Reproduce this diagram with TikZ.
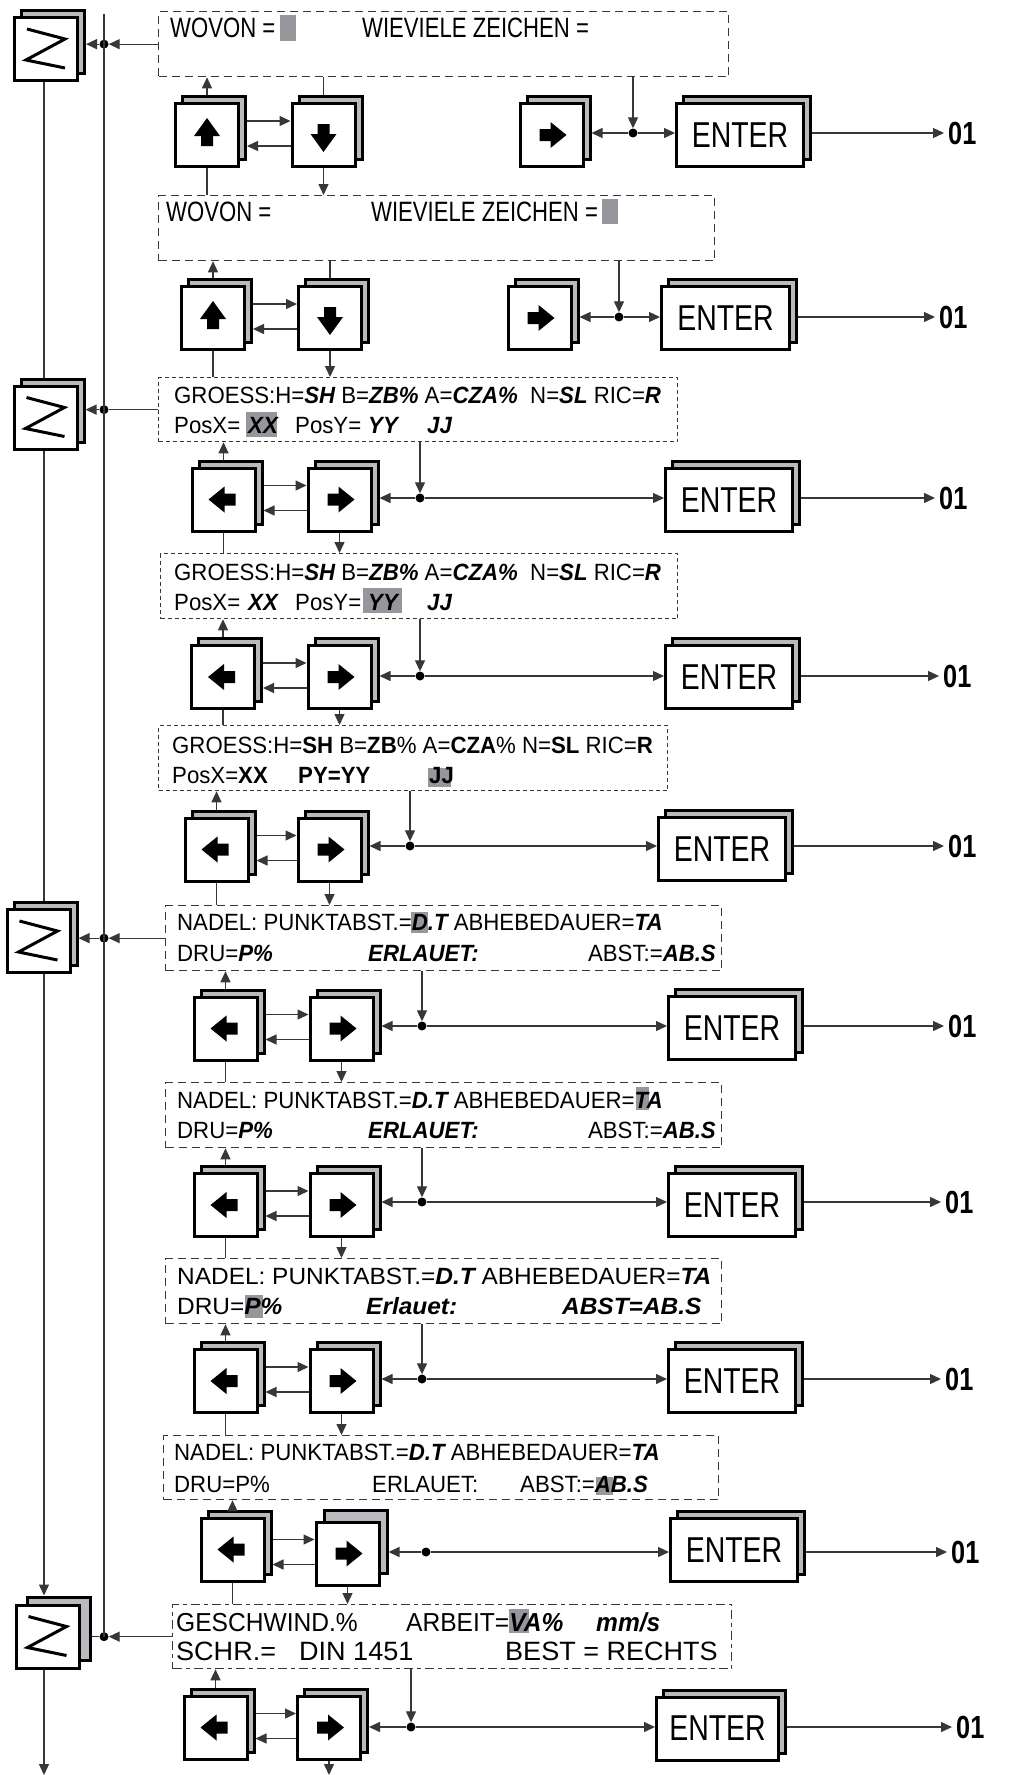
\documentclass[tikz,border=0pt]{standalone}
\usepackage{fontspec}
\setmainfont{Liberation Sans}
\newfontfamily\fa{Liberation Sans}[FakeStretch=0.79]
\newfontfamily\fb{Liberation Sans}[FakeStretch=0.945]
\newfontfamily\fc{Liberation Sans}[FakeStretch=1.04]
\newfontfamily\fd{Liberation Sans}[FakeStretch=1.02]
\usetikzlibrary{arrows.meta,calc}
\definecolor{hl}{RGB}{150,150,156}
\definecolor{sh}{RGB}{185,185,190}
\definecolor{ln}{RGB}{55,55,55}
\newcommand\bfi[1]{{\bfseries\itshape #1}}
\tikzset{
 kface/.style={draw, line width=3pt, fill=white, inner sep=0pt, minimum height=63pt, minimum width=#1},
 kshadow/.style={draw, line width=3pt, fill=sh, inner sep=0pt, minimum height=63pt, minimum width=#1},
 dbox/.style={draw=ln, line width=1.3pt, dash pattern=on 8pt off 5pt, anchor=north west, inner sep=0pt},
 dboxf/.style={dbox, dash pattern=on 4pt off 3pt},
 dboxg/.style={dbox, dash pattern=on 9pt off 4pt on 4pt off 4pt},
 con/.style={draw=ln, line width=1.3pt},
 arr/.style={con, -{Triangle[length=11pt,width=10pt]}},
 jdot/.style={circle, fill=black, inner sep=0pt, minimum size=9pt},
 tA/.style={anchor=base west, inner sep=0pt, font=\fontsize{28}{30}\fa},
 tB/.style={anchor=base west, inner sep=0pt, font=\fontsize{23.5}{25}\fb},
 tC/.style={anchor=base west, inner sep=0pt, font=\fontsize{23.5}{25}\fc},
 tD/.style={anchor=base west, inner sep=0pt, font=\fontsize{26}{28}\fb},
 tE/.style={anchor=base west, inner sep=0pt, font=\fontsize{26.5}{28}\fd},
 one/.style={anchor=west, inner sep=0pt, font=\fontsize{32}{32}\fa\bfseries},
}
\newcommand\kbox[5][(7,-7)]{%
 \node[kshadow=#5] (#2s) at ($(#3,#4)+#1$) {};
 \node[kface=#5] (#2) at (#3,#4) {};}
\newcommand\entbox[4]{%
 \node[kshadow=#4] (#1s) at ($(#2,#3)+(7,-7)$) {};
 \node[kface=#4, font=\fontsize{36}{36}\fa] (#1) at (#2,#3) {ENTER};}
\newcommand\icU[1]{\fill[shift={(#1.center)}] (0,-17)--(13,1)--(6,1)--(6,11)--(-6,11)--(-6,1)--(-13,1)--cycle;}
\newcommand\icD[1]{\fill[shift={(#1.center)}] (0,17)--(13,-1)--(6,-1)--(6,-11)--(-6,-11)--(-6,-1)--(-13,-1)--cycle;}
\newcommand\icR[1]{\fill[shift={(#1.center)}] (15,0)--(-1,-13)--(-1,-6)--(-12,-6)--(-12,6)--(-1,6)--(-1,13)--cycle;}
\newcommand\icL[1]{\fill[shift={(#1.center)}] (-15,0)--(1,-13)--(1,-6)--(12,-6)--(12,6)--(1,6)--(1,13)--cycle;}
\newcommand\icG[1]{\draw[line width=3pt, shift={(#1.center)}] (-19,-20)--(19,-10)--(-20,11)--(19,19);}
\newcommand\pairarr[2]{%
 \coordinate (#1u) at ($(#2.west)+(0,-14)$);
 \coordinate (#1d) at ($(#2.west)+(0,11)$);
 \draw[arr] (#1u -| #1s.east) -- (#1u);
 \draw[arr] (#1d) -- (#1d -| #1s.east);}
\begin{document}
\begin{tikzpicture}[x=1pt,y=-1pt]
\fill[white] (0,0) rectangle (1013,1775);
\useasboundingbox (0,0) rectangle (1013,1775);

% ---------- dashed display boxes ----------
\node[dbox, minimum width=570pt, minimum height=65pt] (b1) at (158,11) {};
\node[dbox, minimum width=556pt, minimum height=65pt] (b2) at (158,195) {};
\node[dboxf, minimum width=519pt, minimum height=64pt] (b3) at (158,377) {};
\node[dboxf, minimum width=517pt, minimum height=65pt] (b4) at (160,553) {};
\node[dboxf, minimum width=509pt, minimum height=65pt] (b5) at (158,725) {};
\node[dbox, minimum width=556pt, minimum height=65pt] (b6) at (165,905) {};
\node[dbox, minimum width=556pt, minimum height=65pt] (b7) at (165,1082) {};
\node[dbox, minimum width=556pt, minimum height=65pt] (b8) at (165,1258) {};
\node[dbox, minimum width=555pt, minimum height=64pt] (b9) at (163,1435) {};
\node[dboxg, minimum width=559pt, minimum height=64pt] (b10) at (172,1604) {};

% ---------- highlights ----------
\fill[hl] (280,15) rectangle (296,41);
\fill[hl] (602,199) rectangle (618,224);
\fill[hl] (246,412) rectangle (277,437);
\fill[hl] (363,588) rectangle (402,613);
\fill[hl] (428,768) rectangle (451,787);
\fill[hl] (411,912) rectangle (428,933);
\fill[hl] (636,1087) rectangle (649,1110);
\fill[hl] (245,1295) rectangle (263,1318);
\fill[hl] (596,1477) rectangle (613,1495);
\fill[hl] (509,1609) rectangle (529,1633);

% ---------- texts ----------
\node[tA] (t1a) at (170,37) {WOVON =};
\node[tA] (t1b) at (362,37) {WIEVIELE ZEICHEN =};
\node[tA] (t2a) at (166,221) {WOVON =};
\node[tA] (t2b) at (371,221) {WIEVIELE ZEICHEN =};

\node[tB] (t3a) at (174,403) {GROESS:H=\bfi{SH} B=\bfi{ZB\%} A=\bfi{CZA\%}\ \ N=\bfi{SL} RIC=\bfi{R}};
\node[tB] (t3b) at (174,433) {PosX=};
\node[tB] (t3c) at (248,433) {\bfi{XX}};
\node[tB] (t3d) at (295,433) {PosY=};
\node[tB] (t3e) at (368,433) {\bfi{YY}};
\node[tB] (t3f) at (427,433) {\bfi{JJ}};

\node[tB] (t4a) at (174,580) {GROESS:H=\bfi{SH} B=\bfi{ZB\%} A=\bfi{CZA\%}\ \ N=\bfi{SL} RIC=\bfi{R}};
\node[tB] (t4b) at (174,610) {PosX=};
\node[tB] (t4c) at (248,610) {\bfi{XX}};
\node[tB] (t4d) at (295,610) {PosY=};
\node[tB] (t4e) at (368,610) {\bfi{YY}};
\node[tB] (t4f) at (427,610) {\bfi{JJ}};

\node[tB] (t5a) at (172,753) {GROESS:H=\textbf{SH} B=\textbf{ZB}\% A=\textbf{CZA}\% N=\textbf{SL} RIC=\textbf{R}};
\node[tB] (t5b) at (172,783) {PosX=\textbf{XX}};
\node[tB] (t5c) at (298,783) {\textbf{PY=YY}};
\node[tB] (t5d) at (429,783) {\textbf{JJ}};

\node[tB] (t6a) at (177,930) {NADEL: PUNKTABST.=\bfi{D.T} ABHEBEDAUER=\bfi{TA}};
\node[tB] (t6b) at (177,961) {DRU=\bfi{P\%}};
\node[tB] (t6c) at (368,961) {\bfi{ERLAUET:}};
\node[tB, anchor=base east] (t6d) at (716,961) {ABST:=\bfi{AB.S}};

\node[tB] (t7a) at (177,1108) {NADEL: PUNKTABST.=\bfi{D.T} ABHEBEDAUER=\bfi{TA}};
\node[tB] (t7b) at (177,1138) {DRU=\bfi{P\%}};
\node[tB] (t7c) at (368,1138) {\bfi{ERLAUET:}};
\node[tB, anchor=base east] (t7d) at (716,1138) {ABST:=\bfi{AB.S}};

\node[tC] (t8a) at (177,1284) {NADEL: PUNKTABST.=\bfi{D.T} ABHEBEDAUER=\bfi{TA}};
\node[tC] (t8b) at (177,1314) {DRU=\bfi{P\%}};
\node[tC] (t8c) at (366,1314) {\bfi{Erlauet:}};
\node[tC] (t8d) at (562,1314) {\bfi{ABST=AB.S}};

\node[tB] (t9a) at (174,1460) {NADEL: PUNKTABST.=\bfi{D.T} ABHEBEDAUER=\bfi{TA}};
\node[tB] (t9b) at (174,1492) {DRU=P\%};
\node[tB] (t9c) at (372,1492) {ERLAUET:};
\node[tB] (t9d) at (520,1492) {ABST:=\bfi{AB.S}};

\node[tD] (t10a) at (176,1631) {GESCHWIND.\%};
\node[tD] (t10b) at (406,1631) {ARBEIT=\bfi{VA\%}};
\node[tD] (t10c) at (596,1631) {\bfi{mm/s}};
\node[tE] (t10d) at (176,1660) {SCHR.=};
\node[tE] (t10e) at (299,1660) {DIN 1451};
\node[tE] (t10f) at (505,1660) {BEST = RECHTS};

% ---------- left column ----------
\kbox{g1}{46}{49}{63pt} \icG{g1}
\kbox{g2}{45.5}{417.5}{63pt} \icG{g2}
\kbox{g3}{38.5}{941}{63pt} \icG{g3}
\kbox[(11,-8)]{g4}{47.5}{1636.5}{63pt} \icG{g4}
\coordinate (xa) at (44,0);
\coordinate (xb) at (104,0);
\coordinate (vtop) at (104,14);
\coordinate (bot1) at (44,1775);
\draw[con] (g1.south -| xa) -- (g2s.north -| xa);
\draw[con] (g2.south -| xa) -- (g3s.north -| xa);
\draw[arr] (g3.south -| xa) -- (g4s.north -| xa);
\draw[arr] (g4.south -| xa) -- (bot1);
\node[jdot] (d1) at (b1.west -| xb) {};
\node[jdot] (d2) at (b3.west -| xb) {};
\node[jdot] (d3) at (b6.west -| xb) {};
\node[jdot] (d4) at (b10.west -| xb) {};
\draw[con] (vtop) -- (d4.center);
\draw[arr] (b1.west) -- (d1.east);
\draw[arr] (d1.west) -- (d1 -| g1s.east);
\draw[con] (b3.west) -- (d2.east);
\draw[arr] (d2.west) -- (d2 -| g2s.east);
\draw[arr] (b6.west) -- (d3.east);
\draw[arr] (d3.west) -- (d3 -| g3s.east);
\draw[arr] (b10.west) -- (d4.east);
\draw[con] (d4.west) -- (d4 -| g4s.east);

% ---------- row 1 ----------
\kbox{up1}{207}{135}{63pt} \icU{up1}
\kbox{dn1}{323.5}{135}{63pt} \icD{dn1}
\kbox{rk1}{551.5}{135}{63pt} \icR{rk1}
\entbox{ent1}{740}{135}{127pt}
\node[jdot] (j1) at (633,133) {};
\node[one] (o1) at (948,133) {01};
\draw[arr] (up1.center |- up1s.north) -- (up1.center |- b1.south);
\draw[con] (dn1.center |- b1.south) -- (dn1.center |- dn1s.north);
\pairarr{up1}{dn1}
\draw[arr] (dn1.south) -- (dn1.south |- b2.north);
\draw[con] (up1.south) -- (up1.south |- b2.north);
\draw[arr] (j1 |- b1.south) -- (j1.north);
\draw[arr] (j1.west) -- (j1 -| rk1s.east);
\draw[arr] (j1.east) -- (j1 -| ent1.west);
\draw[arr, shorten >=4pt] (o1 -| ent1s.east) -- (o1.west);

% ---------- row 2 ----------
\kbox{up2}{213}{318}{63pt} \icU{up2}
\kbox{dn2}{330}{318}{63pt} \icD{dn2}
\kbox{rk2}{539.5}{318}{63pt} \icR{rk2}
\entbox{ent2}{725.5}{318}{128pt}
\node[jdot] (j2) at (619,317) {};
\node[one] (o2) at (939,317) {01};
\draw[arr] (up2.center |- up2s.north) -- (up2.center |- b2.south);
\draw[con] (dn2.center |- b2.south) -- (dn2.center |- dn2s.north);
\pairarr{up2}{dn2}
\draw[arr] (dn2.south) -- (dn2.south |- b3.north);
\draw[con] (up2.south) -- (up2.south |- b3.north);
\draw[arr] (j2 |- b2.south) -- (j2.north);
\draw[arr] (j2.west) -- (j2 -| rk2s.east);
\draw[arr] (j2.east) -- (j2 -| ent2.west);
\draw[arr, shorten >=4pt] (o2 -| ent2s.east) -- (o2.west);

% ---------- rows 3..10 ----------
\kbox{L3}{223.5}{499.5}{63pt} \icL{L3}
\kbox{R3}{339.5}{499.5}{63pt} \icR{R3}
\entbox{ent3}{729}{500}{127pt}
\node[jdot] (j3) at (420,498) {};
\node[one] (o3) at (939,498) {01};

\kbox{L4}{223}{677}{63pt} \icL{L4}
\kbox{R4}{339.5}{677}{63pt} \icR{R4}
\entbox{ent4}{729}{677}{127pt}
\node[jdot] (j4) at (420,676) {};
\node[one] (o4) at (943,676) {01};

\kbox{L5}{216.5}{849.5}{63pt} \icL{L5}
\kbox{R5}{329.5}{849.5}{63pt} \icR{R5}
\entbox{ent5}{722}{849}{127pt}
\node[jdot] (j5) at (410,846) {};
\node[one] (o5) at (948,846) {01};

\kbox{L6}{225.5}{1028.5}{63pt} \icL{L6}
\kbox{R6}{341.5}{1028.5}{63pt} \icR{R6}
\entbox{ent6}{732}{1028}{127pt}
\node[jdot] (j6) at (422,1026) {};
\node[one] (o6) at (948,1026) {01};

\kbox{L7}{225.5}{1205}{63pt} \icL{L7}
\kbox{R7}{341.5}{1205}{63pt} \icR{R7}
\entbox{ent7}{732}{1205}{127pt}
\node[jdot] (j7) at (422,1202) {};
\node[one] (o7) at (945,1202) {01};

\kbox{L8}{225.5}{1381}{63pt} \icL{L8}
\kbox{R8}{341.5}{1381}{63pt} \icR{R8}
\entbox{ent8}{732}{1381}{127pt}
\node[jdot] (j8) at (422,1379) {};
\node[one] (o8) at (945,1379) {01};

\kbox{L9}{232.5}{1549.5}{63pt} \icL{L9}
\kbox[(8,-12)]{R9}{347.5}{1553.5}{63pt} \icR{R9}
\entbox{ent9}{734}{1550}{127pt}
\node[jdot] (j9) at (426,1552) {};
\node[one] (o9) at (951,1552) {01};

\kbox{L10}{215.5}{1727.5}{63pt} \icL{L10}
\kbox{R10}{329}{1727.5}{63pt} \icR{R10}
\entbox{ent10}{717.5}{1728.5}{122pt}
\node[jdot] (j10) at (411,1727) {};
\node[one] (o10) at (956,1727) {01};
\coordinate (bot2) at (329,1775);

% row links
\draw[arr] (L3.center |- L3s.north) -- (L3.center |- b3.south);
\pairarr{L3}{R3}
\draw[arr] (R3.south) -- (R3.south |- b4.north);
\draw[con] (L3.south) -- (L3.south |- b4.north);
\draw[arr] (j3 |- b3.south) -- (j3.north);

\draw[arr] (L4.center |- L4s.north) -- (L4.center |- b4.south);
\pairarr{L4}{R4}
\draw[arr] (R4.south) -- (R4.south |- b5.north);
\draw[con] (L4.south) -- (L4.south |- b5.north);
\draw[arr] (j4 |- b4.south) -- (j4.north);

\draw[arr] (L5.center |- L5s.north) -- (L5.center |- b5.south);
\pairarr{L5}{R5}
\draw[arr] (R5.south) -- (R5.south |- b6.north);
\draw[con] (L5.south) -- (L5.south |- b6.north);
\draw[arr] (j5 |- b5.south) -- (j5.north);

\draw[arr] (L6.center |- L6s.north) -- (L6.center |- b6.south);
\pairarr{L6}{R6}
\draw[arr] (R6.south) -- (R6.south |- b7.north);
\draw[con] (L6.south) -- (L6.south |- b7.north);
\draw[arr] (j6 |- b6.south) -- (j6.north);

\draw[arr] (L7.center |- L7s.north) -- (L7.center |- b7.south);
\pairarr{L7}{R7}
\draw[arr] (R7.south) -- (R7.south |- b8.north);
\draw[con] (L7.south) -- (L7.south |- b8.north);
\draw[arr] (j7 |- b7.south) -- (j7.north);

\draw[arr] (L8.center |- L8s.north) -- (L8.center |- b8.south);
\pairarr{L8}{R8}
\draw[arr] (R8.south) -- (R8.south |- b9.north);
\draw[con] (L8.south) -- (L8.south |- b9.north);
\draw[arr] (j8 |- b8.south) -- (j8.north);

\draw[arr] (L9.center |- L9s.north) -- (L9.center |- b9.south);
\pairarr{L9}{R9}
\draw[arr] (R9.south) -- (R9.south |- b10.north);
\draw[con] (L9.south) -- (L9.south |- b10.north);

\draw[arr] (L10.center |- L10s.north) -- (L10.center |- b10.south);
\pairarr{L10}{R10}
\draw[arr] (R10.south) -- (bot2);
\draw[arr] (j10 |- b10.south) -- (j10.north);

\foreach \r in {3,...,10}{
 \draw[arr] (j\r.west) -- (j\r -| R\r s.east);
 \draw[arr] (j\r.east) -- (j\r -| ent\r.west);
 \draw[arr, shorten >=4pt] (o\r -| ent\r s.east) -- (o\r.west);
}
\end{tikzpicture}
\end{document}
